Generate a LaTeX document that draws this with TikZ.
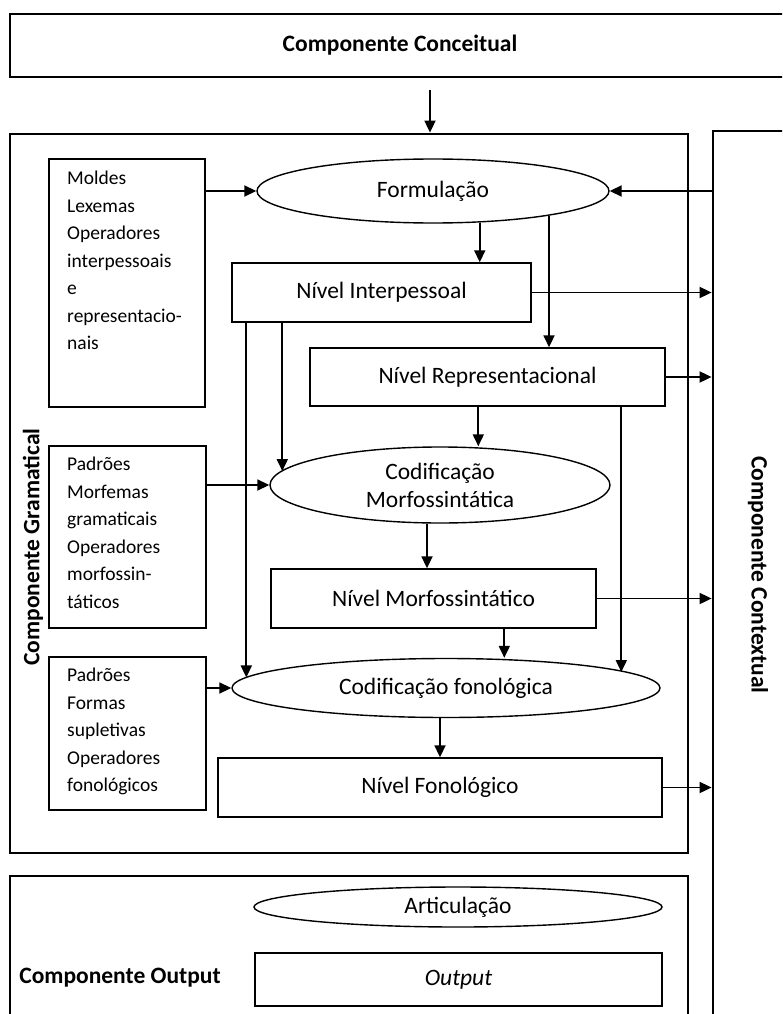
\documentclass[tikz,border=0pt]{standalone}
\usepackage{fontspec}
\setmainfont{Carlito}
\usetikzlibrary{arrows.meta,shapes.geometric,calc}
\begin{document}
\begin{tikzpicture}[x=1pt,y=-1pt,
  outer/.style={draw,line width=2.8pt,inner sep=0pt},
  inbox/.style={draw,line width=1.4pt,rectangle,inner sep=0pt},
  ell/.style={draw,line width=1.4pt,ellipse,inner sep=0pt},
  lbl/.style={font=\fontsize{23.5}{28}\selectfont,inner sep=0pt},
  blbl/.style={font=\fontsize{23.5}{28}\selectfont\bfseries,inner sep=0pt},
  side/.style={font=\fontsize{19.5}{27.5}\selectfont,align=left,anchor=north west,inner sep=0pt},
  arr/.style={line width=1.8pt,-{Triangle[length=12pt,width=11pt]}}]
\useasboundingbox (0,0) rectangle (782,1014);
\clip (0,0) rectangle (782,1014);
\fill[white] (0,0) rectangle (782,1014);

% outer components
\node[outer,minimum width=780pt,minimum height=63pt] (conc) at (400,45.5) {};
\node[blbl] (concT) at (400,45) {Componente Conceitual};
\node[outer,minimum width=678pt,minimum height=719pt] (gram) at (349,493.5) {};
\node[outer,minimum width=90pt,minimum height=920pt] (ctx) at (758,591) {};
\node[outer,minimum width=678pt,minimum height=180pt] (outc) at (349,966) {};
\node[blbl,rotate=90] (gramT) at (33,547) {Componente Gramatical};
\node[blbl,rotate=-90] (ctxT) at (758,575) {Componente Contextual};
\node[blbl] (outT) at (120,978) {Componente Output};

% left boxes
\node[inbox,minimum width=156pt,minimum height=248pt] (moldes) at (127,283) {};
\node[side] (moldesT) at (67,171) {Moldes\\Lexemas\\Operadores\\interpessoais\\e\\representacio-\\nais};
\node[inbox,minimum width=157pt,minimum height=182pt] (pad1) at (127.5,537) {};
\node[side] (pad1T) at (67,457) {Padrões\\Morfemas\\gramaticais\\Operadores\\morfossin-\\táticos};
\node[inbox,minimum width=157pt,minimum height=153pt] (pad2) at (127.5,733.5) {};
\node[side] (pad2T) at (67,668) {Padrões\\Formas\\supletivas\\Operadores\\fonológicos};

% central flow
\node[ell,lbl,minimum width=352pt,minimum height=64pt] (form) at (433,191) {Formulação};
\node[inbox,lbl,minimum width=299pt,minimum height=59pt] (inter) at (381.5,292.5) {Nível Interpessoal};
\node[inbox,lbl,minimum width=355pt,minimum height=58pt] (repr) at (487.5,377) {Nível Representacional};
\node[ell,lbl,align=center,minimum width=340pt,minimum height=76pt] (morf) at (440,485) {Codificação\\Morfossintática};
\node[inbox,lbl,minimum width=325pt,minimum height=59pt] (morfo) at (433.5,598.5) {Nível Morfossintático};
\node[ell,lbl,minimum width=428pt,minimum height=59pt] (fono) at (446,688) {Codificação fonológica};
\node[inbox,lbl,minimum width=444pt,minimum height=59pt] (fonol) at (440,787.5) {Nível Fonológico};
\node[ell,lbl,minimum width=408pt,minimum height=40pt] (artic) at (458,907) {Articulação};
\node[inbox,lbl,minimum width=407pt,minimum height=53pt] (outp) at (458.5,979.5) {\itshape Output};

% connectors
\coordinate (cstart) at (430,90);
\draw[arr] (cstart) -- (cstart |- gram.north);
\draw[arr] (form.west -| moldes.east) -- (form.west);
\draw[arr] (form.east -| ctx.west) -- (form.east);
\draw[arr] (form.-34) -- (form.-34 |- inter.north);
\draw[arr] (form.-12) -- (form.-12 |- repr.north);
\draw[arr] (inter.east) -- (inter.east -| ctx.west);
\draw[arr] (repr.east) -- (repr.east -| ctx.west);
\draw[arr] (morfo.east) -- (morfo.east -| ctx.west);
\draw[arr] (fonol.east) -- (fonol.east -| ctx.west);
\coordinate (i1) at ($(inter.south west)+(15,0)$);
\coordinate (i2) at ($(inter.south west)+(51,0)$);
\draw[arr] (i1) -- (i1 |- fono.177);
\draw[arr] (i2) -- (i2 |- morf.175);
\coordinate (r1) at ($(repr.south west)+(169,0)$);
\coordinate (r2) at ($(repr.south west)+(312,0)$);
\draw[arr] (r1) -- (r1 |- morf.north);
\draw[arr] (r2) -- (r2 |- fono.5.5);
\draw[arr] (morf.west -| pad1.east) -- (morf.west);
\coordinate (m1) at ($(morf.south)+(-13,0)$);
\draw[arr] (m1) -- (m1 |- morfo.north);
\coordinate (mo1) at ($(morfo.south west)+(234,0)$);
\draw[arr] (mo1) -- (mo1 |- fono.north);
\draw[arr] (fono.west -| pad2.east) -- (fono.west);
\draw[arr] (fonol.north |- fono.south) -- (fonol.north);
\end{tikzpicture}
\end{document}
